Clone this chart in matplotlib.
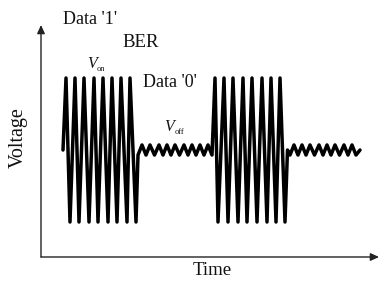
import matplotlib
matplotlib.use("Agg")
import matplotlib.pyplot as plt

# ---- data (time in arbitrary units, voltage normalised to the '1' peak) ----
on1_t = [63, 66, 70, 75, 79, 84, 89, 94, 98, 103, 108, 112, 117, 121, 127, 130, 136]
on1_v = [0, 1, -1, 1, -1, 1, -1, 1, -1, 1, -1, 1, -1, 1, -1, 1, -1]

off1_t = [138, 142, 146, 150, 154.5, 159, 163, 167, 171, 175, 179.5, 184, 188, 192, 196, 200, 204, 208, 212]
off1_v = [-0.07, 0.07, -0.07, 0.07, -0.07, 0.07, -0.07, 0.07, -0.07, 0.07,
          -0.07, 0.07, -0.07, 0.07, -0.07, 0.07, -0.07, 0.07, -0.07]

on2_t = [215, 218, 224, 228, 233, 238, 243, 247, 252, 257, 262, 267, 271, 276, 280, 285]
on2_v = [1, -1, 1, -1, 1, -1, 1, -1, 1, -1, 1, -1, 1, -1, 1, -1]

off2_t = [287.5, 290, 294, 298, 302, 306, 310, 314.5, 319, 323, 327, 331, 335, 339.5, 344, 348, 352, 356, 360]
off2_v = [0, -0.07, 0.07, -0.07, 0.07, -0.07, 0.07, -0.07, 0.07, -0.07, 0.07,
          -0.07, 0.07, -0.07, 0.07, -0.07, 0.07, -0.07, 0]

t = on1_t + off1_t + on2_t + off2_t
v = on1_v + off1_v + on2_v + off2_v

W, H = 380, 281
fig = plt.figure(figsize=(W / 100, H / 100), dpi=100)
fig.patch.set_facecolor("white")

# axes box: origin at (41, 257) px, arrow tips at x=379 and y=25
x0, y0, x1, y1 = 41, 257, 379, 25
ax = fig.add_axes([x0 / W, 1 - y0 / H, (x1 - x0) / W, (y0 - y1) / H])
ax.set_xlim(x0, x1)
# voltage mapping: centre at y=150 px, unit = 72 px
ax.set_ylim((150 - y0) / 72, (150 - y1) / 72)
for s in ax.spines.values():
    s.set_visible(False)
ax.set_xticks([])
ax.set_yticks([])
ax.patch.set_alpha(0)

ax.plot(t, v, color="black", lw=2.5, solid_joinstyle="round", solid_capstyle="round")

arrow_kw = dict(arrowstyle="-|>,head_length=0.5,head_width=0.23", color="#222222",
                lw=1.0, shrinkA=0, shrinkB=0, mutation_scale=10)
ax.annotate("", xy=(0, 1), xytext=(0, 0), xycoords="axes fraction",
            textcoords="axes fraction", arrowprops=arrow_kw, annotation_clip=False)
ax.annotate("", xy=(1, 0), xytext=(0, 0), xycoords="axes fraction",
            textcoords="axes fraction", arrowprops=arrow_kw, annotation_clip=False)

serif = ["Liberation Serif", "DejaVu Serif"]

def ftext(x, y, s, **kw):
    fig.text(x / W, 1 - y / H, s, family=serif, color="#111111", **kw)

ftext(63, 24, "Data '1'", fontsize=13, va="baseline", ha="left")
ftext(122, 47, "BER", fontsize=13.5, va="baseline", ha="left")
ftext(87, 68, "V", fontsize=11.5, style="italic", va="baseline", ha="left")
ftext(97, 71, "on", fontsize=6, va="baseline", ha="left")
ftext(143, 87, "Data '0'", fontsize=13, va="baseline", ha="left")
ftext(164, 131, "V", fontsize=11.5, style="italic", va="baseline", ha="left")
ftext(175, 134, "off", fontsize=6, va="baseline", ha="left")
ftext(18, 138, "Voltage", fontsize=14.5, rotation=90, va="center", ha="center")
ftext(212, 275, "Time", fontsize=13.5, va="baseline", ha="center")

fig.savefig("out.png", dpi=100)
